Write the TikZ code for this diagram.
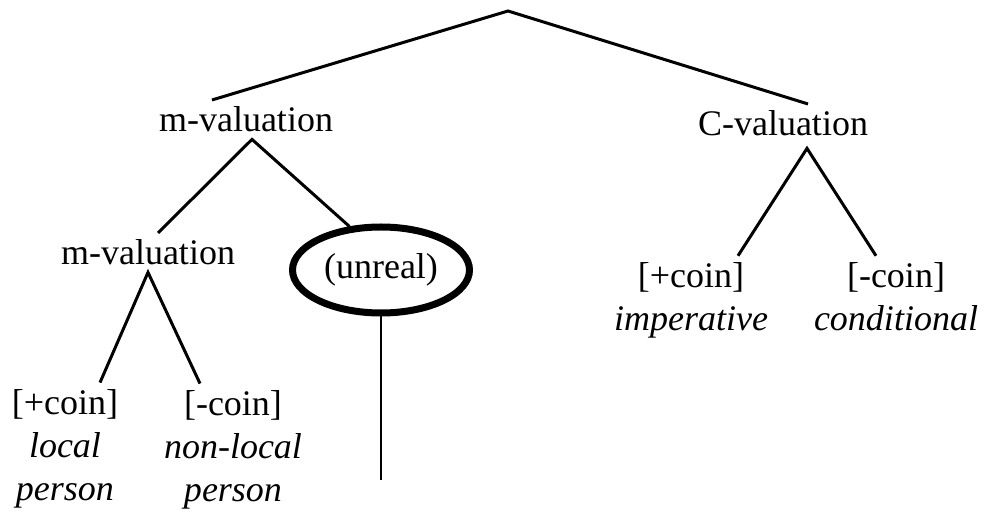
\documentclass[tikz,border=0pt]{standalone}
\usepackage{fontspec}
\setmainfont{Liberation Serif}
\usepackage{tikz}
\usetikzlibrary{shapes.geometric}

\begin{document}
\begin{tikzpicture}[x=0.5bp, y=-0.5bp,
        every node/.style={font=\fontsize{18bp}{21.6bp}\selectfont},
        branch/.style={line width=1.5bp},
        feat/.style={align=center, anchor=base}]
    \useasboundingbox (0, 0) rectangle (986, 515);

    % upper part of the tree
    \coordinate (top) at (508, 11);
    \node[anchor=base] (mval) at (246, 132) {m-valuation};
    \node[anchor=base] (cval) at (783, 136) {C-valuation};

    % left branch (feat nodes sit on the baseline of their last line)
    \node[anchor=base] (mvalsub) at (148, 265) {m-valuation};
    \node[ellipse, draw, line width=3.5bp, inner sep=0pt,
          minimum width=88.5bp, minimum height=43bp] (unreal) at (381, 270) {(unreal)};
    \node[feat] (local) at (65, 501) {[+coin]\\ \textit{local}\\ \textit{person}};
    \node[feat] (nonlocal) at (233, 502) {[-coin]\\ \textit{non-local}\\ \textit{person}};
    \coordinate (stem) at (381, 480);

    % right branch
    \node[feat] (imper) at (691, 331) {[+coin]\\ \textit{imperative}};
    \node[feat] (condit) at (896, 331) {[-coin]\\ \textit{conditional}};

    \draw[branch] ([xshift=-17bp]mval.north) -- (top) -- ([xshift=12.5bp]cval.north);
    \draw[branch] ([xshift=5bp]mvalsub.north) -- ([xshift=3bp]mval.south) -- (unreal.126);
    \draw[branch] ([xshift=17.5bp]local.north) -- (mvalsub.south) -- ([xshift=-16.5bp]nonlocal.north);
    \draw[branch] ([xshift=23.5bp]imper.north) -- ([xshift=12bp, yshift=-2.5bp]cval.south)
        -- ([xshift=-10bp]condit.north);
    \draw[line width=0.8bp] (unreal.south) -- (stem);
\end{tikzpicture}
\end{document}
